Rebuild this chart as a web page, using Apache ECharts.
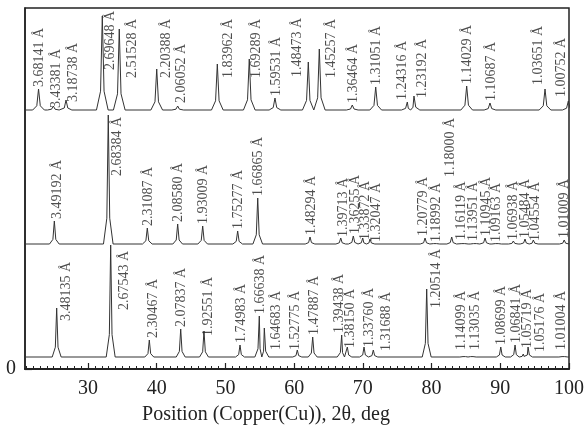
<!DOCTYPE html>
<html><head><meta charset="utf-8">
<script src="https://cdn.jsdelivr.net/npm/echarts@6/dist/echarts.min.js"></script>
<style>html,body{margin:0;padding:0;background:#fff}#c{width:584px;height:436px}</style>
</head><body><div id="c"></div>
<script>
// ---------- DATA ----------
const xTickLabels = [30, 40, 50, 60, 70, 80, 90, 100];
const yTickLabels = [0];
const axisTitle = 'Position (Copper(Cu)), 2θ, deg';

// top pattern: 2θ position, net intensity, d-spacing label
const topPos = [22.8, 24.95, 26.8, 32.08, 34.55, 40.0, 43.05, 48.82, 53.47, 57.21, 62.06, 63.66, 68.46, 71.87, 76.47, 77.44, 85.11, 88.5, 96.51, 99.9];
const topInt = [21, 4, 10, 94, 81, 41, 4, 46, 51, 12, 48, 61, 5, 23, 8, 14, 24, 7, 21, 9];
const topD = ['3.68141','3.43381','3.18738','2.69648','2.51528','2.20388','2.06052','1.83962','1.69289','1.59531','1.48473','1.45257','1.36464','1.31051','1.24316','1.23192','1.14029','1.10687','1.03651','1.00752'];

// middle pattern
const midPos = [25.1, 32.95, 38.63, 43.05, 46.69, 51.78, 54.7, 62.31, 66.78, 68.61, 69.98, 71.04, 79.05, 80.5, 82.93, 84.62, 86.32, 87.78, 89.48, 91.9, 93.6, 94.81, 99.3];
const midInt = [23, 129, 16, 20, 18, 13, 46, 7, 6, 8, 6, 5, 6, 2, 7, 2, 2, 6, 2, 3, 5, 4, 4];
const midD = ['3.49192','2.68384','2.31087','2.08580','1.93009','1.75277','1.66865','1.48294','1.39713','1.36255','1.33872','1.32047','1.20779','1.18992','1.18000','1.16119','1.13951','1.10945','1.09163','1.06938','1.05484','1.04554','1.01009'];

// bottom pattern
const botPos = [25.44, 33.3, 38.92, 43.49, 46.88, 52.12, 54.93, 55.66, 60.46, 62.7, 66.92, 67.74, 70.17, 71.52, 79.29, 84.77, 85.84, 90.07, 92.15, 93.35, 94.04, 99.18];
const botInt = [49, 112, 17, 28, 26, 12, 41, 29, 7, 20, 22, 10, 10, 7, 68, 2, 2, 10, 12, 3, 10, 2];
const botD = ['3.48135','2.67543','2.30467','2.07837','1.92551','1.74983','1.66638','1.64683','1.52775','1.47887','1.39438','1.38150','1.33760','1.31688','1.20514','1.14099','1.13035','1.08699','1.06841','1.05719','1.05176','1.01004'];

// ---------- LAYOUT ----------
const X_MIN = 20.83, X_MAX = 100, Y_MAX = 361;
const OFFSET = { top: 259, mid: 125, bot: 12 };     // stacking offsets
const HALFW = { top: 0.85, mid: 0.7, bot: 0.65 };   // peak half base width (deg)
// label nudges: [dx px, label start y (axis units) or null]
const NUDGE = {
  top: {'3.43381':[3,261],'3.18738':[7,267],'2.69648':[8,299],'2.51528':[13,291],'2.20388':[10,291],'2.06052':[4,266],'1.83962':[11,291],'1.69289':[7,291],'1.48473':[-11,292],'1.45257':[12,291],'1.24316':[-5,269],'1.23192':[8,271],'1.03651':[-7,284],'1.00752':[-7,272]},
  mid: {'3.49192':[3,null],'2.68384':[9,193],'1.39713':[3,132],'1.36255':[2,null],'1.33872':[3,129],'1.32047':[6,127],'1.20779':[-2,133],'1.18992':[1,127],'1.18000':[-1,192],'1.16119':[-2,129],'1.13951':[-2,128],'1.09163':[0,127],'1.06938':[0,129],'1.04554':[2,128],'1.01009':[0,131],'1.05484':[0,131]},
  bot: {'3.48135':[10,48],'2.67543':[14,59],'2.30467':[4,31],'1.92551':[4,33],'1.64683':[12,19],'1.52775':[-2,19],'1.47887':[2,null],'1.39438':[-2,null],'1.38150':[3,21],'1.33760':[5,22],'1.31688':[13,18],'1.20514':[10,61],'1.14099':[-3,19],'1.13035':[4,19],'1.05719':[4,21],'1.05176':[12,17],'1.01004':[-2,19]}
};
const INK = '#222';
const SERIF = 'Liberation Serif, Times New Roman, serif';

function profile(pos, inten, base, w) {
  const pts = [[X_MIN, base]];
  for (let i = 0; i < pos.length; i++) {
    const p = pos[i], h = inten[i];
    const lg = i > 0 ? pos[i] - pos[i-1] : 99;
    const rg = i < pos.length - 1 ? pos[i+1] - pos[i] : 99;
    const wl = Math.min(w, lg / 2), wr = Math.min(w, rg / 2);
    pts.push([p - wl, base], [p - wl * 0.3, base + h * 0.2], [p, base + h],
             [p + wr * 0.3, base + h * 0.2], [p + wr, base]);
  }
  if (pts[pts.length - 1][0] < X_MAX) pts.push([X_MAX, base]);
  return pts;
}
function labels(pos, inten, dlist, base, nudge) {
  return pos.map((p, i) => {
    const n = nudge[dlist[i]] || [1, null];
    const y = n[1] == null ? base + inten[i] + 2 : n[1];
    // label is rotated 90°, so the local y offset moves it horizontally
    return { value: [p, y], name: dlist[i] + ' Å', label: { offset: [0, n[0]] } };
  });
}
const minorTicks = [];
for (let v = 21; v <= 100; v++) minorTicks.push(v);

const series = [];
[['top', topPos, topInt, topD], ['mid', midPos, midInt, midD], ['bot', botPos, botInt, botD]].forEach(([k, pos, inten, d]) => {
  series.push({
    type: 'line', data: profile(pos, inten, OFFSET[k], HALFW[k]), showSymbol: false, symbol: 'none',
    lineStyle: { color: '#333', width: 1 }, silent: true, z: 2
  });
  series.push({
    type: 'scatter', data: labels(pos, inten, d, OFFSET[k], NUDGE[k]), symbolSize: 0, silent: true, z: 3,
    label: { show: true, formatter: '{b}', rotate: 90, position: 'inside', align: 'left', verticalAlign: 'middle',
             fontFamily: SERIF, fontSize: 14, color: INK }
  });
});

const chart = echarts.init(document.getElementById('c'), null, { renderer: 'canvas' });
chart.setOption({
  animation: false,
  backgroundColor: '#fff',
  grid: { left: 25, right: 15, top: 8, bottom: 67, show: true, borderColor: INK, borderWidth: 1.5, outerBoundsMode: 'none', containLabel: false },
  xAxis: [{
    type: 'value', min: X_MIN, max: X_MAX, position: 'bottom',
    axisLine: { show: true, onZero: false, lineStyle: { color: INK, width: 2 } },
    axisTick: { show: true, inside: true, length: 6, customValues: xTickLabels, lineStyle: { color: INK, width: 1.2 } },
    axisLabel: { customValues: xTickLabels, fontFamily: SERIF, fontSize: 20, color: INK, margin: 10 },
    splitLine: { show: false },
    name: axisTitle, nameLocation: 'middle', nameGap: 36,
    nameTextStyle: { fontFamily: SERIF, fontSize: 20, color: INK, padding: [0, 62, 0, 0] }
  }, {
    type: 'value', min: X_MIN, max: X_MAX, position: 'bottom',
    axisLine: { show: false, onZero: false },
    axisTick: { show: true, inside: true, length: 3, customValues: minorTicks, lineStyle: { color: INK, width: 1 } },
    axisLabel: { show: false }, splitLine: { show: false }
  }],
  yAxis: {
    type: 'value', min: 0, max: Y_MAX,
    axisLine: { show: true, onZero: false, lineStyle: { color: INK, width: 1.5 } },
    axisTick: { show: true, inside: true, length: 7, customValues: yTickLabels, lineStyle: { color: INK, width: 1.2 } },
    axisLabel: { customValues: yTickLabels, fontFamily: SERIF, fontSize: 20, color: INK, margin: 9 },
    splitLine: { show: false }
  },
  series: series
});
</script></body></html>
